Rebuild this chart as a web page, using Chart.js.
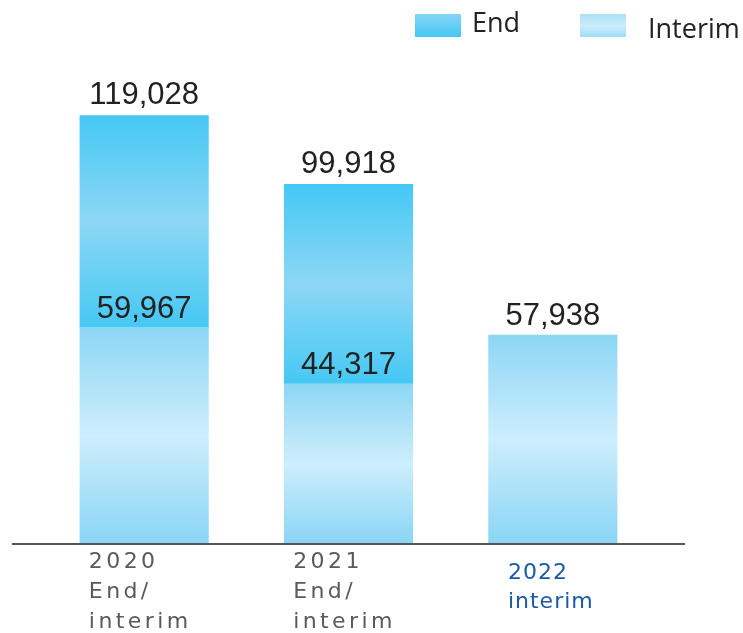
<!DOCTYPE html>
<html>
<head>
<meta charset="utf-8">
<script src="https://cdn.jsdelivr.net/npm/chart.js@4.4.1/dist/chart.umd.min.js"></script>
<style>
  html, body { margin: 0; padding: 0; background: #ffffff; }
  #wrap { width: 743px; height: 633px; position: relative; }
</style>
</head>
<body>
<div id="wrap"><canvas id="c" width="743" height="633"></canvas></div>
<script>
// ---- data ----
const categories = ['2020', '2021', '2022'];
const tickLabels = [['2020', 'End/', 'interim'], ['2021', 'End/', 'interim'], ['2022', 'interim']];
const interimValues = [59967, 44317, 57938];
const endValues = [119028, 99918, null];
const seriesNames = ['End', 'Interim'];

// ---- helpers ----
function segGradient(chart, yTop, yBot, stops) {
  const g = chart.ctx.createLinearGradient(0, yTop, 0, yBot);
  stops.forEach(s => g.addColorStop(s[0], s[1]));
  return g;
}
const END_STOPS = [[0, '#45c8f4'], [0.5, '#8dd7f5'], [1, '#45c8f4']];
const INT_STOPS = [[0, '#8dd6f5'], [0.5, '#cdeefc'], [1, '#8bd5f5']];

function barFill(stops, fallback, isFloating) {
  return (ctx) => {
    const chart = ctx.chart;
    if (ctx.type !== 'data' || !chart.chartArea || !chart.scales.y) return fallback;
    const raw = ctx.raw;
    if (raw === null || raw === undefined) return fallback;
    const y = chart.scales.y;
    let lo, hi;
    if (isFloating) { lo = raw[0]; hi = raw[1]; } else { lo = 0; hi = raw; }
    return segGradient(chart, y.getPixelForValue(hi), y.getPixelForValue(lo), stops);
  };
}

const endData = endValues.map((v, i) => (v === null ? null : [interimValues[i], v]));

const labelsPlugin = {
  id: 'customLabels',
  afterDraw(chart) {
    const ctx = chart.ctx;
    const xs = chart.scales.x;
    const ys = chart.scales.y;
    const area = chart.chartArea;
    ctx.save();

    // axis line
    ctx.strokeStyle = '#555555';
    ctx.lineWidth = 2;
    ctx.beginPath();
    ctx.moveTo(12, area.bottom + 1);
    ctx.lineTo(685, area.bottom + 1);
    ctx.stroke();

    // value labels
    ctx.fillStyle = '#222222';
    ctx.font = '31px "Liberation Sans", Arial, sans-serif';
    ctx.textAlign = 'center';
    ctx.textBaseline = 'alphabetic';
    categories.forEach((c, i) => {
      const x = xs.getPixelForValue(i);
      ctx.fillText(interimValues[i].toLocaleString('en-US'), x, ys.getPixelForValue(interimValues[i]) - 10);
      if (endValues[i] !== null) {
        ctx.fillText(endValues[i].toLocaleString('en-US'), x, ys.getPixelForValue(endValues[i]) - 11);
      }
    });

    // category labels
    ctx.font = '22px "DejaVu Sans", Verdana, sans-serif';
    ctx.textAlign = 'left';
    tickLabels.forEach((lines, i) => {
      const last = i === tickLabels.length - 1;
      ctx.letterSpacing = last ? '1px' : '3.4px';
      ctx.fillStyle = last ? '#1a5aa8' : '#5a5a5a';
      let w = 0;
      lines.forEach(l => { w = Math.max(w, ctx.measureText(l).width); });
      const x0 = xs.getPixelForValue(i) - w / 2 - (last ? 2 : 4);
      const y0 = area.bottom + (last ? 36 : 25);
      const lh = last ? 29 : 30;
      lines.forEach((l, k) => ctx.fillText(l, x0, y0 + k * lh));
    });
    ctx.letterSpacing = '0px';

    // legend
    const legend = [
      { name: seriesNames[0], sx: 415, sy: 14, tx: 472, ty: 32, stops: [[0, '#86d5f5'], [1, '#45c8f4']] },
      { name: seriesNames[1], sx: 580, sy: 14, tx: 648, ty: 38, stops: [[0, '#a9e0f7'], [0.5, '#cbedfc'], [1, '#9fdcf6']] }
    ];
    ctx.font = '27px "Open Sans", "Noto Sans", sans-serif';
    legend.forEach(l => {
      ctx.fillStyle = segGradient(chart, l.sy, l.sy + 23, l.stops);
      ctx.fillRect(l.sx, l.sy, 46, 23);
      ctx.fillStyle = '#222222';
      ctx.fillText(l.name, l.tx, l.ty);
    });
    ctx.restore();
  }
};

new Chart(document.getElementById('c'), {
  type: 'bar',
  data: {
    labels: categories,
    datasets: [
      {
        label: seriesNames[1],
        data: interimValues,
        backgroundColor: barFill(INT_STOPS, '#a9e0f7', false),
        borderWidth: 0,
        grouped: false,
        order: 2
      },
      {
        label: seriesNames[0],
        data: endData,
        backgroundColor: barFill(END_STOPS, '#45c8f4', true),
        borderWidth: 0,
        grouped: false,
        order: 1
      }
    ]
  },
  options: {
    responsive: false,
    animation: false,
    devicePixelRatio: 1,
    layout: { padding: { left: 42, right: 88, top: 40, bottom: 90 } },
    plugins: { legend: { display: false }, tooltip: { enabled: false } },
    scales: {
      x: { display: false, offset: true, grid: { display: false } },
      y: { display: false, min: 0, max: 140000, grid: { display: false } }
    },
    datasets: { bar: { categoryPercentage: 1, barPercentage: 0.632 } }
  },
  plugins: [labelsPlugin]
});
</script>
</body>
</html>
